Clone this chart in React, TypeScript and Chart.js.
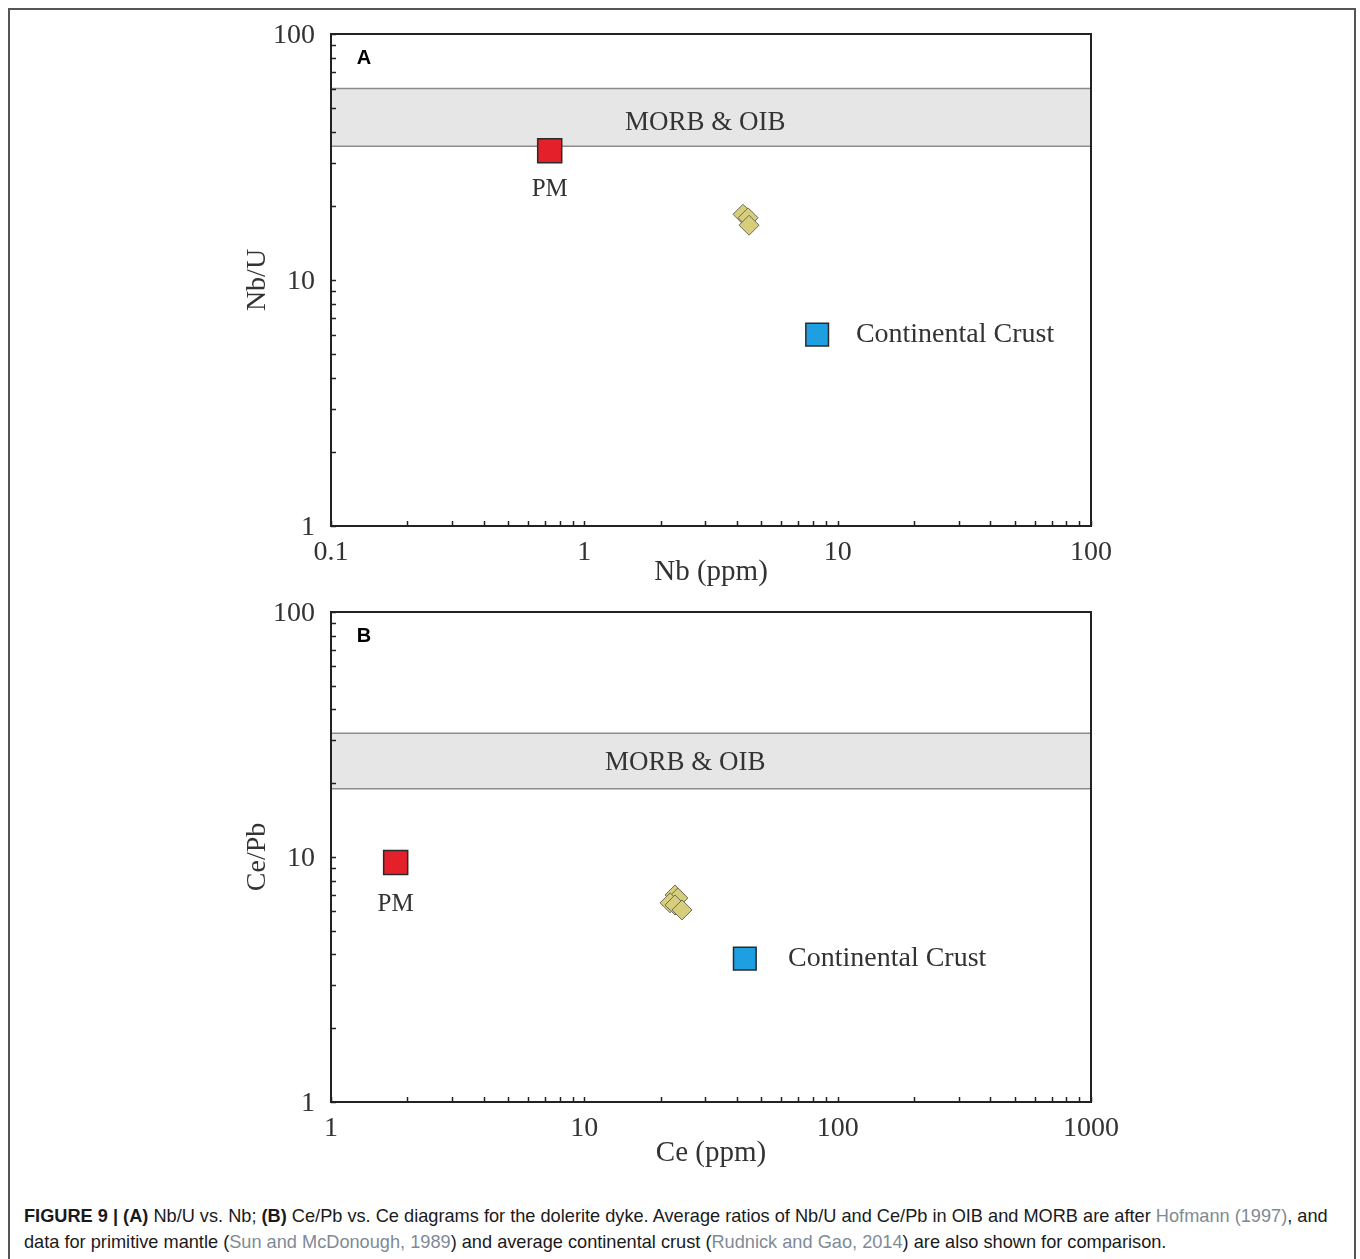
import React, { useEffect, useRef } from 'react';
import { Chart, registerables } from 'chart.js';

Chart.register(...registerables);

// ---------------- Panel A: Nb/U vs Nb ----------------
const A_X_RANGE = [0.1, 100];
const A_Y_RANGE = [1, 100];
const A_MORB_OIB_BAND = [35, 60];
const A_PM_NB = [0.73];
const A_PM_NBU = [33.5];
const A_CC_NB = [8.3];
const A_CC_NBU = [6.0];
const A_DYKE_NB = [4.23, 4.43, 4.47];
const A_DYKE_NBU = [18.5, 17.9, 16.7];

// ---------------- Panel B: Ce/Pb vs Ce ----------------
const B_X_RANGE = [1, 1000];
const B_Y_RANGE = [1, 100];
const B_MORB_OIB_BAND = [19, 32];
const B_PM_CE = [1.8];
const B_PM_CEPB = [9.5];
const B_CC_CE = [43];
const B_CC_CEPB = [3.85];
const B_DYKE_CE = [22.8, 23.4, 21.8, 22.8, 24.3];
const B_DYKE_CEPB = [7.0, 6.8, 6.5, 6.37, 6.08];

const SERIF = '"Liberation Serif", "Times New Roman", serif';
const SANS = '"Liberation Sans", Arial, sans-serif';
const TEXT = '#333333';

function logTicks(min: number, max: number) {
  const out: number[] = [];
  const e0 = Math.round(Math.log10(min));
  const e1 = Math.round(Math.log10(max));
  for (let e = e0; e < e1; e++) {
    for (let m = 1; m < 10; m++) out.push(m * Math.pow(10, e));
  }
  out.push(max);
  return out;
}

function isPow10(v: number) {
  const l = Math.log10(v);
  return Math.abs(l - Math.round(l)) < 1e-9;
}

function fmt(v: number) {
  if (!isPow10(v)) return '';
  return v < 1 ? v.toFixed(1) : String(Math.round(v));
}

const toPts = (xs: number[], ys: number[]) => xs.map((x, i) => ({ x, y: ys[i] }));

interface PanelCfg {
  id: string;
  letter: string;
  xRange: number[];
  yRange: number[];
  band: number[];
  bandLabelAt: { x: number; y: number };
  xTitle: string;
  yTitle: string;
  pm: { x: number; y: number }[];
  cc: { x: number; y: number }[];
  dyke: { x: number; y: number }[];
  pmLabelAt: { x: number; y: number };
  ccLabelAt: { x: number; y: number };
  xAxisH: number;
  xTitlePad: number;
}

const PANEL_A: PanelCfg = {
  id: 'A',
  letter: 'A',
  xRange: A_X_RANGE,
  yRange: A_Y_RANGE,
  band: A_MORB_OIB_BAND,
  bandLabelAt: { x: 3.0, y: 43.5 },
  xTitle: 'Nb (ppm)',
  yTitle: 'Nb/U',
  pm: toPts(A_PM_NB, A_PM_NBU),
  cc: toPts(A_CC_NB, A_CC_NBU),
  dyke: toPts(A_DYKE_NB, A_DYKE_NBU),
  pmLabelAt: { x: 0.73, y: 23.4 },
  ccLabelAt: { x: 11.8, y: 6.0 },
  xAxisH: 74,
  xTitlePad: 10,
};

const PANEL_B: PanelCfg = {
  id: 'B',
  letter: 'B',
  xRange: B_X_RANGE,
  yRange: B_Y_RANGE,
  band: B_MORB_OIB_BAND,
  bandLabelAt: { x: 25, y: 24.2 },
  xTitle: 'Ce (ppm)',
  yTitle: 'Ce/Pb',
  pm: toPts(B_PM_CE, B_PM_CEPB),
  cc: toPts(B_CC_CE, B_CC_CEPB),
  dyke: toPts(B_DYKE_CE, B_DYKE_CEPB),
  pmLabelAt: { x: 1.8, y: 6.43 },
  ccLabelAt: { x: 63.7, y: 3.85 },
  xAxisH: 76,
  xTitlePad: 7,
};

function makePlugin(cfg: PanelCfg) {
  return {
    id: 'panelDecor' + cfg.id,
    beforeDatasetsDraw(chart: any) {
      const { ctx, chartArea, scales } = chart;
      const { left, right } = chartArea;
      const yTop = scales.y.getPixelForValue(cfg.band[1]);
      const yBot = scales.y.getPixelForValue(cfg.band[0]);
      ctx.save();
      ctx.fillStyle = '#e6e6e6';
      ctx.fillRect(left, yTop, right - left, yBot - yTop);
      ctx.strokeStyle = '#8c8c8c';
      ctx.lineWidth = 1.5;
      ctx.beginPath();
      ctx.moveTo(left, yTop);
      ctx.lineTo(right, yTop);
      ctx.moveTo(left, yBot);
      ctx.lineTo(right, yBot);
      ctx.stroke();
      ctx.fillStyle = TEXT;
      ctx.font = `27px ${SERIF}`;
      ctx.textAlign = 'center';
      ctx.textBaseline = 'middle';
      ctx.fillText(
        'MORB & OIB',
        scales.x.getPixelForValue(cfg.bandLabelAt.x),
        scales.y.getPixelForValue(cfg.bandLabelAt.y)
      );
      ctx.restore();
    },
    afterDatasetsDraw(chart: any) {
      const { ctx, chartArea, scales } = chart;
      ctx.save();
      ctx.fillStyle = TEXT;
      ctx.textBaseline = 'middle';
      ctx.textAlign = 'center';
      ctx.font = `25px ${SERIF}`;
      ctx.fillText('PM', scales.x.getPixelForValue(cfg.pmLabelAt.x), scales.y.getPixelForValue(cfg.pmLabelAt.y));
      ctx.textAlign = 'left';
      ctx.font = `28px ${SERIF}`;
      ctx.fillText(
        'Continental Crust',
        scales.x.getPixelForValue(cfg.ccLabelAt.x),
        scales.y.getPixelForValue(cfg.ccLabelAt.y)
      );
      ctx.fillStyle = '#000';
      ctx.font = `bold 20px ${SANS}`;
      ctx.textAlign = 'center';
      ctx.fillText(cfg.letter, chartArea.left + 33, chartArea.top + 24);
      ctx.restore();
    },
    afterDraw(chart: any) {
      const { ctx, chartArea, scales } = chart;
      const { left, right, top, bottom } = chartArea;
      ctx.save();
      ctx.strokeStyle = '#222';
      ctx.lineWidth = 1.5;
      scales.x.ticks.forEach((t: any) => {
        const px = Math.round(scales.x.getPixelForValue(t.value)) + 0.5;
        ctx.beginPath();
        ctx.moveTo(px, bottom);
        ctx.lineTo(px, bottom - 5);
        ctx.stroke();
      });
      scales.y.ticks.forEach((t: any) => {
        const py = Math.round(scales.y.getPixelForValue(t.value)) + 0.5;
        ctx.beginPath();
        ctx.moveTo(left, py);
        ctx.lineTo(left + 5, py);
        ctx.stroke();
      });
      ctx.lineWidth = 2;
      ctx.strokeRect(left, top, right - left, bottom - top);
      ctx.restore();
    },
  };
}

function zeroPad(s: any) {
  s.paddingTop = 0;
  s.paddingBottom = 0;
  s.paddingLeft = 0;
  s.paddingRight = 0;
}

function Panel({ cfg, top }: { cfg: PanelCfg; top: number }) {
  const ref = useRef<HTMLCanvasElement>(null);
  useEffect(() => {
    if (!ref.current) return;
    const xTicks = logTicks(cfg.xRange[0], cfg.xRange[1]);
    const yTicks = logTicks(cfg.yRange[0], cfg.yRange[1]);
    const chart = new Chart(ref.current, {
      type: 'scatter',
      data: {
        datasets: [
          {
            label: 'Dolerite dyke',
            data: cfg.dyke,
            pointStyle: 'rectRot',
            pointRadius: 10,
            backgroundColor: '#d6ce7c',
            borderColor: '#6e6c52',
            borderWidth: 1,
          },
          {
            label: 'PM',
            data: cfg.pm,
            pointStyle: 'rect',
            pointRadius: 17,
            backgroundColor: '#e4202a',
            borderColor: '#2a2a2a',
            borderWidth: 1.5,
          },
          {
            label: 'Continental Crust',
            data: cfg.cc,
            pointStyle: 'rect',
            pointRadius: 16,
            backgroundColor: '#1e9fe2',
            borderColor: '#2a2a2a',
            borderWidth: 1.5,
          },
        ] as any,
      },
      options: {
        animation: false,
        responsive: false,
        devicePixelRatio: 1,
        layout: { autoPadding: false, padding: { left: 0, top: 14, right: 39, bottom: 0 } },
        plugins: { legend: { display: false }, tooltip: { enabled: false } },
        scales: {
          x: {
            type: 'logarithmic',
            position: 'bottom',
            min: cfg.xRange[0],
            max: cfg.xRange[1],
            grid: { display: false },
            border: { display: false },
            afterBuildTicks: (s: any) => {
              s.ticks = xTicks.map((v) => ({ value: v }));
            },
            afterFit: (s: any) => {
              s.height = cfg.xAxisH;
              zeroPad(s);
            },
            ticks: {
              autoSkip: false,
              maxRotation: 0,
              minRotation: 0,
              padding: 2,
              color: TEXT,
              font: { family: SERIF, size: 28 },
              callback: (v: any) => fmt(Number(v)),
            },
            title: {
              display: true,
              text: cfg.xTitle,
              color: TEXT,
              font: { family: SERIF, size: 29 },
              padding: { top: 0, bottom: cfg.xTitlePad },
            },
          },
          y: {
            type: 'logarithmic',
            position: 'left',
            min: cfg.yRange[0],
            max: cfg.yRange[1],
            grid: { display: false },
            border: { display: false },
            afterBuildTicks: (s: any) => {
              s.ticks = yTicks.map((v) => ({ value: v }));
            },
            afterFit: (s: any) => {
              s.width = 101;
              zeroPad(s);
            },
            ticks: {
              autoSkip: false,
              padding: 8,
              labelOffset: 2,
              color: TEXT,
              font: { family: SERIF, size: 28 },
              callback: (v: any) => fmt(Number(v)),
            },
            title: {
              display: true,
              text: cfg.yTitle,
              color: TEXT,
              font: { family: SERIF, size: 28 },
              padding: { top: 11, bottom: 0 },
            },
          },
        },
      } as any,
      plugins: [makePlugin(cfg)],
    });
    return () => chart.destroy();
  }, [cfg]);
  return (
    <div style={{ position: 'absolute', left: 230, top, width: 900, height: 580 }}>
      <canvas ref={ref} width={900} height={580} style={{ width: 900, height: 580, display: 'block' }} />
    </div>
  );
}

const LINK = '#7f8a96';

export default function App() {
  return (
    <div
      style={{
        position: 'absolute',
        left: 0,
        top: 0,
        width: 1360,
        height: 1259,
        overflow: 'hidden',
        background: '#fff',
      }}
    >
      <div
        style={{
          position: 'absolute',
          left: 8,
          top: 8,
          width: 1348,
          height: 1300,
          border: '2px solid #555',
          boxSizing: 'border-box',
        }}
      />
      <Panel cfg={PANEL_A} top={20} />
      <Panel cfg={PANEL_B} top={598} />
      <div
        style={{
          position: 'absolute',
          left: 24,
          top: 1203,
          fontFamily: SANS,
          fontSize: 18.2,
          lineHeight: '26px',
          color: '#1a1a1a',
          whiteSpace: 'nowrap',
        }}
      >
        <b>FIGURE 9 | (A)</b> Nb/U vs. Nb; <b>(B)</b> Ce/Pb vs. Ce diagrams for the dolerite dyke. Average ratios of Nb/U
        and Ce/Pb in OIB and MORB are after <span style={{ color: LINK }}>Hofmann (1997)</span>, and
        <br />
        data for primitive mantle (<span style={{ color: LINK }}>Sun and McDonough, 1989</span>) and average continental
        crust (<span style={{ color: LINK }}>Rudnick and Gao, 2014</span>) are also shown for comparison.
      </div>
    </div>
  );
}
